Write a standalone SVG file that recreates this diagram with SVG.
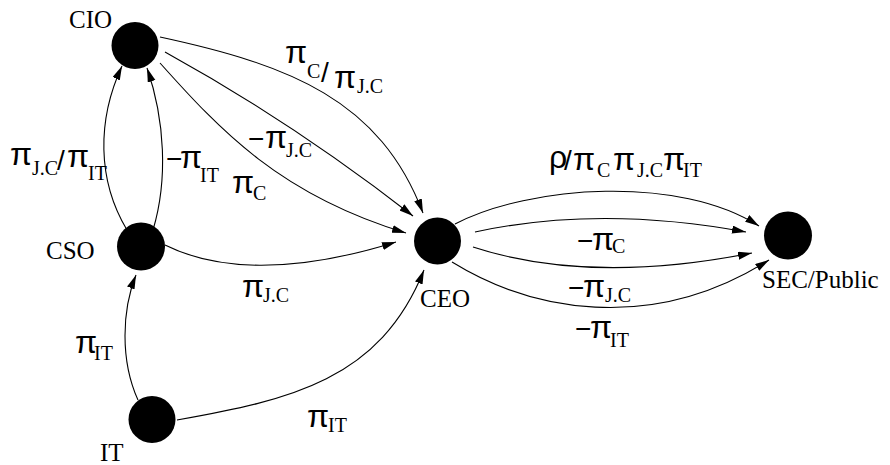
<svg xmlns="http://www.w3.org/2000/svg" width="890" height="465" viewBox="0 0 890 465">
<style>
.node{fill:#000}
.nl{font-family:"Liberation Serif","Times New Roman",serif;font-size:25px;fill:#000}
.edge{fill:none;stroke:#000;stroke-width:1.1}
.g{font-family:"Liberation Sans",Arial,sans-serif;font-size:32px;fill:#000}
.m{font-family:"Liberation Sans",Arial,sans-serif;font-size:28px;fill:#000}
.sl{font-family:"Liberation Sans",Arial,sans-serif;font-size:28px;fill:#000}
.s{font-family:"Liberation Serif","Times New Roman",serif;font-size:20px;fill:#000}
</style>
<defs>
<marker id="arr" markerUnits="userSpaceOnUse" markerWidth="16" markerHeight="10" refX="14" refY="4" orient="auto">
<path d="M0,0 L14,4 L0,8 Z" fill="#000"/>
</marker>
</defs>
<rect width="890" height="465" fill="#fff"/>
<g id="connectors">
<path class="edge" marker-end="url(#arr)" d="M160,37 C290,65 380,100 423,213"/>
<path class="edge" marker-end="url(#arr)" d="M165,52 Q292,122 413,216"/>
<path class="edge" marker-end="url(#arr)" d="M160,63 C220,130 280,195 406,233"/>
<path class="edge" marker-end="url(#arr)" d="M127,230 C97,180 97,120 122,66"/>
<path class="edge" marker-end="url(#arr)" d="M153,230 C168,180 165,120 147,68"/>
<path class="edge" marker-end="url(#arr)" d="M165,245 C215,270 290,275 396,242"/>
<path class="edge" marker-end="url(#arr)" d="M138,400 C120,360 122,310 136,275"/>
<path class="edge" marker-end="url(#arr)" d="M177,420 C290,400 380,380 424,270"/>
<path class="edge" marker-end="url(#arr)" d="M455,224 C530,185 680,175 759,226"/>
<path class="edge" marker-end="url(#arr)" d="M475,232 Q600,205 746,232"/>
<path class="edge" marker-end="url(#arr)" d="M473,247 Q590,285 752,253"/>
<path class="edge" marker-end="url(#arr)" d="M452,262 C530,310 650,335 769,260"/>
</g>
<g id="edge-labels">
<text><tspan class="g" x="285" y="63">π</tspan><tspan class="s" x="307" y="78">C</tspan><tspan class="sl" x="321" y="82">/</tspan><tspan class="g" x="334" y="88">π</tspan><tspan class="s" x="357" y="93">J.C</tspan></text>
<text><tspan class="m" x="248" y="148">−</tspan><tspan class="g" x="265" y="148">π</tspan><tspan class="s" x="286" y="157">J.C</tspan></text>
<text><tspan class="g" x="232" y="193">π</tspan><tspan class="s" x="253" y="200">C</tspan></text>
<text><tspan class="g" x="10" y="165">π</tspan><tspan class="s" x="32" y="175">J.C</tspan><tspan class="sl" x="57" y="170">/</tspan><tspan class="g" x="67" y="167">π</tspan><tspan class="s" x="88" y="180">IT</tspan></text>
<text><tspan class="m" x="166" y="168">−</tspan><tspan class="g" x="180" y="168">π</tspan><tspan class="s" x="200" y="182">IT</tspan></text>
<text><tspan class="g" x="242" y="297">π</tspan><tspan class="s" x="263" y="302">J.C</tspan></text>
<text><tspan class="g" x="75" y="353">π</tspan><tspan class="s" x="94" y="360">IT</tspan></text>
<text><tspan class="g" x="307" y="427">π</tspan><tspan class="s" x="328" y="432">IT</tspan></text>
<text><tspan class="g" x="549" y="168">ρ</tspan><tspan class="sl" x="564" y="170">/</tspan><tspan class="g" x="573" y="170">π</tspan><tspan class="s" x="597" y="177">C</tspan><tspan class="g" x="613" y="170">π</tspan><tspan class="s" x="637" y="177">J.C</tspan><tspan class="g" x="663" y="170">π</tspan><tspan class="s" x="683" y="177">IT</tspan></text>
<text><tspan class="m" x="577" y="250">−</tspan><tspan class="g" x="592" y="250">π</tspan><tspan class="s" x="612" y="253">C</tspan></text>
<text><tspan class="m" x="568" y="297">−</tspan><tspan class="g" x="583" y="297">π</tspan><tspan class="s" x="605" y="302">J.C</tspan></text>
<text><tspan class="m" x="575" y="338">−</tspan><tspan class="g" x="590" y="338">π</tspan><tspan class="s" x="610" y="347">IT</tspan></text>
</g>
<g id="CIO"><circle class="node" cx="135" cy="45.5" r="23.5"/><text class="nl" x="69" y="28">CIO</text></g>
<g id="CSO"><circle class="node" cx="141" cy="246.5" r="24"/><text class="nl" x="46" y="259">CSO</text></g>
<g id="IT"><circle class="node" cx="152" cy="419.5" r="23.5"/><text class="nl" x="100" y="461">IT</text></g>
<g id="CEO"><circle class="node" cx="437.5" cy="241" r="23.5"/><text class="nl" x="420" y="307">CEO</text></g>
<g id="SEC"><circle class="node" cx="788" cy="235.5" r="24"/><text class="nl" x="762" y="288">SEC/Public</text></g>
</svg>
